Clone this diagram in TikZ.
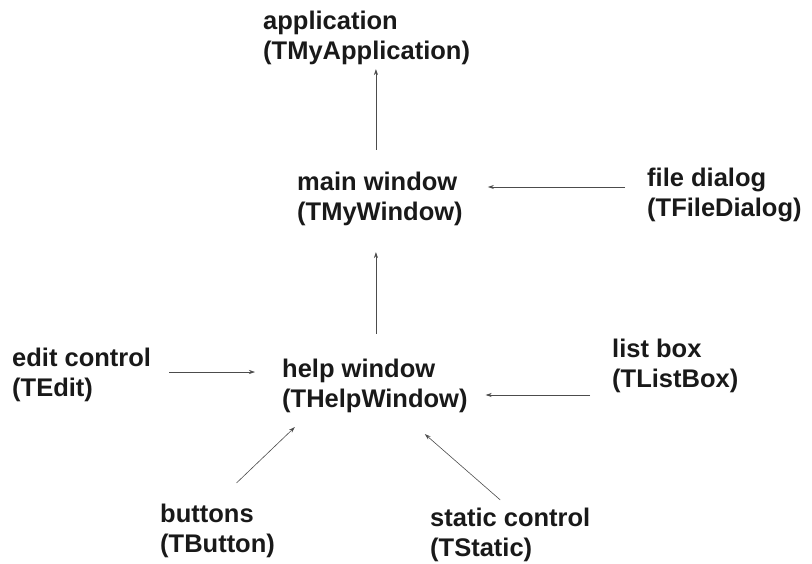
\documentclass[tikz,border=0pt]{standalone}
\usepackage{fontspec}
\setmainfont{Liberation Sans}
\usetikzlibrary{arrows.meta}

\begin{document}
\begin{tikzpicture}[x=1pt,y=-1pt,
  label/.style={anchor=west,inner sep=0pt,align=left,
    font=\fontsize{25.5}{30}\selectfont\bfseries,text=black!90},
  link/.style={draw=black!70,line width=0.6pt,
    -{Stealth[length=6pt,width=4pt]}}]
  \useasboundingbox (0,0) rectangle (812,563);

  % class objects
  \node[label] (app)  at (263,38)  {application\\(TMyApplication)};
  \node[label] (main) at (297,199) {main window\\(TMyWindow)};
  \node[label] (file) at (647,195) {file dialog\\(TFileDialog)};
  \node[label] (help) at (282,386) {help window\\(THelpWindow)};
  \node[label] (edit) at (12,375)  {edit control\\(TEdit)};
  \node[label] (list) at (612,366) {list box\\(TListBox)};
  \node[label] (btn)  at (160,531) {buttons\\(TButton)};
  \node[label] (stat) at (430,535) {static control\\(TStatic)};

  % ownership links
  \draw[link,shorten <=22pt,shorten >=4pt]
    ([xshift=-4pt]main.north) -- ([xshift=-4pt]main.north |- app.south);
  \draw[link,shorten <=25pt,shorten >=26pt]
    ([xshift=-4pt]help.north -| main.north) -- ([xshift=-4pt]main.south);
  \draw[link,shorten <=22pt,shorten >=25pt]
    ([yshift=8pt]file.west) -- ([yshift=8pt]file.west -| main.east);
  \draw[link,shorten <=18pt,shorten >=27pt]
    ([yshift=3pt]edit.east) -- ([yshift=3pt]edit.east -| help.west);
  \draw[link,shorten <=22pt,shorten >=18pt]
    ([yshift=-29pt]list.west) -- ([yshift=-29pt]list.west -| help.east);
  \draw[link]
    ([xshift=19pt,yshift=21pt]btn.north) -- ([xshift=-80pt,yshift=-14pt]help.south);
  \draw[link]
    ([xshift=-10pt,yshift=8pt]stat.north) -- ([xshift=50pt,yshift=-21pt]help.south);
\end{tikzpicture}
\end{document}
